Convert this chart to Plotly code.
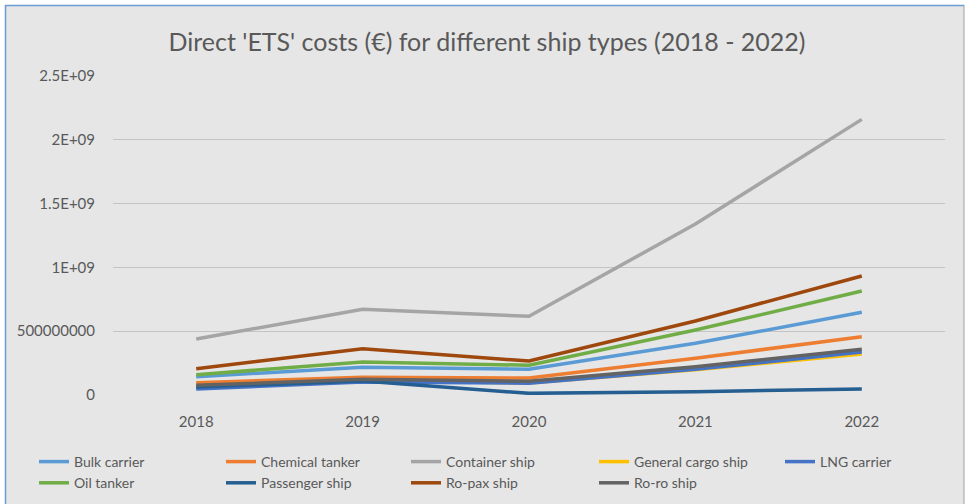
import plotly.graph_objects as go

years = ["2018", "2019", "2020", "2021", "2022"]
series_names = ["Bulk carrier", "Chemical tanker", "Container ship", "General cargo ship",
                "LNG carrier", "Oil tanker", "Passenger ship", "Ro-pax ship", "Ro-ro ship"]
bulk_carrier = [1.43e8, 2.17e8, 2.01e8, 4.05e8, 6.48e8]
chemical_tanker = [9.6e7, 1.39e8, 1.33e8, 2.88e8, 4.57e8]
container_ship = [4.39e8, 6.72e8, 6.17e8, 1.34e9, 2.16e9]
general_cargo_ship = [7.3e7, 1.15e8, 9.4e7, 1.98e8, 3.21e8]
lng_carrier = [4.7e7, 1.02e8, 9.2e7, 2.01e8, 3.37e8]
oil_tanker = [1.59e8, 2.59e8, 2.33e8, 5.09e8, 8.15e8]
passenger_ship = [6.3e7, 1.1e8, 1.3e7, 2.6e7, 4.7e7]
ro_pax_ship = [2.06e8, 3.63e8, 2.66e8, 5.8e8, 9.33e8]
ro_ro_ship = [7.6e7, 1.23e8, 1.07e8, 2.22e8, 3.58e8]
series_values = [bulk_carrier, chemical_tanker, container_ship, general_cargo_ship,
                 lng_carrier, oil_tanker, passenger_ship, ro_pax_ship, ro_ro_ship]
colors = ["#5B9BD5", "#ED7D31", "#A5A5A5", "#FFC000", "#4472C4",
          "#70AD47", "#255E91", "#9E480E", "#636363"]
y_tickvals = [0, 5e8, 1e9, 1.5e9, 2e9, 2.5e9]
y_ticktext = ["0", "500000000", "1E+09", "1.5E+09", "2E+09", "2.5E+09"]

W, H = 966, 504
L, R, T, B = 113, 21, 76, 109
PW, PH = W - L - R, H - T - B


def fx(px):
    return (px - L) / PW


def fy(py):
    return (H - B - py) / PH


legend_ids = ["legend", "legend2", "legend3", "legend4", "legend5"]
legend_left_px = [34, 221, 406, 594, 780]

fig = go.Figure()
for i, (name, vals, col) in enumerate(zip(series_names, series_values, colors)):
    fig.add_trace(go.Scatter(x=years, y=vals, name=name, mode="lines",
                             line=dict(color=col, width=3.5),
                             legend=legend_ids[i % 5]))

font_fam = "Lato, 'Open Sans', sans-serif"
txt = "#595959"

legend_layout = {}
for lid, lx in zip(legend_ids, legend_left_px):
    legend_layout[lid] = dict(orientation="v", xref="container", yref="container",
                              x=lx / W, y=1 - 446 / H, xanchor="left", yanchor="top",
                              font=dict(size=14, color=txt), bgcolor="rgba(0,0,0,0)",
                              tracegroupgap=0, itemwidth=30)

fig.update_layout(
    width=W, height=H,
    margin=dict(l=L, r=R, t=T, b=B, autoexpand=False),
    paper_bgcolor="white",
    plot_bgcolor="rgba(0,0,0,0)",
    font=dict(family=font_fam, color=txt, size=15),
    title=dict(text="Direct 'ETS' costs (€) for different ship types (2018 - 2022)",
               x=487 / W, xanchor="center", y=1 - 42 / H, yanchor="middle",
               font=dict(size=25, color=txt, family=font_fam)),
    xaxis=dict(type="category", range=[-0.5, 4.5], showgrid=False, zeroline=False,
               showline=False, tickfont=dict(size=15, color=txt), ticks="",
               ticklabelstandoff=16, automargin=False),
    yaxis=dict(range=[0, 2.5e9], tickvals=y_tickvals, ticktext=y_ticktext,
               showgrid=True, gridcolor="#c4c4c4", gridwidth=1, zeroline=False,
               showline=False, tickfont=dict(size=15, color=txt),
               ticklabelstandoff=17, automargin=False),
    showlegend=True,
    shapes=[
        dict(type="rect", xref="paper", yref="paper", x0=fx(5), x1=fx(964),
             y0=fy(H + 5), y1=fy(5), fillcolor="#e6e6e6", line=dict(width=0),
             layer="below"),
        dict(type="line", xref="paper", yref="paper", x0=fx(5), x1=fx(964),
             y0=fy(5.5), y1=fy(5.5), line=dict(color="#6d9bd6", width=1.5),
             layer="below"),
        dict(type="line", xref="paper", yref="paper", x0=fx(5.5), x1=fx(5.5),
             y0=fy(5), y1=fy(H + 5), line=dict(color="#6d9bd6", width=1.5),
             layer="below"),
        dict(type="line", xref="paper", yref="paper", x0=fx(964), x1=fx(964),
             y0=fy(5), y1=fy(H + 5), line=dict(color="#a0a0a0", width=1),
             layer="below"),
    ],
    **legend_layout,
)

fig.write_html("out.html")
